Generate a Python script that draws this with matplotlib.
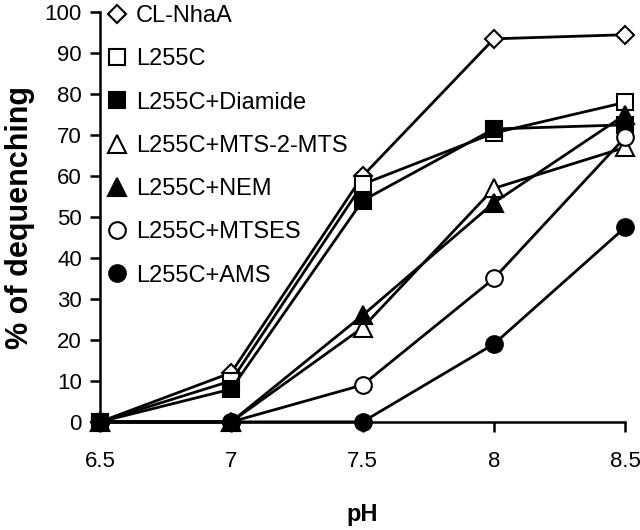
import matplotlib
matplotlib.use("Agg")
import matplotlib.pyplot as plt
from matplotlib.lines import Line2D

plt.rcParams["font.family"] = ["Liberation Sans", "DejaVu Sans"]

ph = [6.5, 7, 7.5, 8, 8.5]

cl_nhaa = [0, 12, 60, 93.5, 94.5]
l255c = [0, 10, 58, 70.5, 78]
diamide = [0, 8, 54, 71.5, 72.5]
mts2mts = [0, 0, 23, 57, 67]
nem = [0, 0, 26, 53.5, 75]
mtses = [0, 0, 9, 35, 69.5]
ams = [0, 0, 0, 19, 47.5]

series = [
  ("CL-NhaA", cl_nhaa, "D", "white", 9),
  ("L255C", l255c, "s", "white", 11),
  ("L255C+Diamide", diamide, "s", "black", 11),
  ("L255C+MTS-2-MTS", mts2mts, "^", "white", 13),
  ("L255C+NEM", nem, "^", "black", 13),
  ("L255C+MTSES", mtses, "o", "white", 12),
  ("L255C+AMS", ams, "o", "black", 12),
]

fig = plt.figure(figsize=(6.4, 5.3), dpi=100)
ax = fig.add_axes([0.156, 0.204, 0.821, 0.773])

handles = []
for label, values, marker, face, size in series:
  ax.plot(ph, values, color="black", linewidth=2, marker=marker,
          markerfacecolor=face, markeredgecolor="black", markeredgewidth=1.5,
          markersize=size, clip_on=False, zorder=3)
  handles.append(Line2D([], [], linestyle="none", marker=marker, markersize=size,
                        markerfacecolor=face, markeredgecolor="black",
                        markeredgewidth=1.5, label=label))

ax.set_xlim(6.5, 8.5)
ax.set_ylim(0, 100)
ax.set_xticks(ph)
ax.set_xticklabels(["6.5", "7", "7.5", "8", "8.5"])
ax.set_yticks(range(0, 101, 10))

for side in ["top", "right"]:
  ax.spines[side].set_visible(False)
for side in ["left", "bottom"]:
  ax.spines[side].set_linewidth(1.8)

ax.tick_params(axis="both", labelsize=16, width=1.8, length=7, direction="out")
ax.tick_params(axis="x", pad=14)
ax.tick_params(axis="y", pad=6)

ax.set_xlabel("pH", fontsize=17, fontweight="bold", labelpad=22)
ax.set_ylabel("% of dequenching", fontsize=22, fontweight="bold", labelpad=7)

ax.legend(handles=handles, loc="upper left", bbox_to_anchor=(-0.012, 1.04), frameon=False,
          fontsize=17, handletextpad=0.2, labelspacing=0.9, handlelength=1.2,
          borderaxespad=0.0)

fig.savefig("out.png", dpi=100)
